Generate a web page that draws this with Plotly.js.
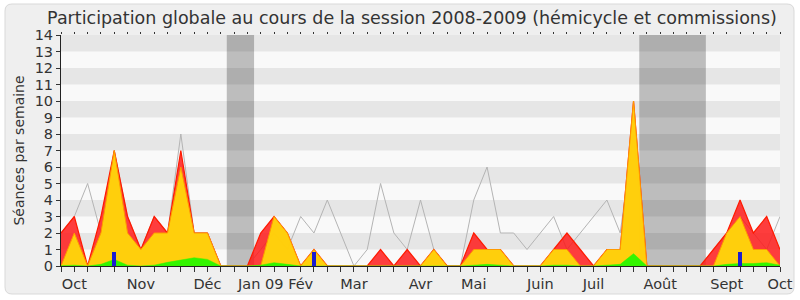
<!DOCTYPE html>
<html>
<head>
<meta charset="utf-8">
<script src="https://cdn.plot.ly/plotly-3.0.1.min.js"></script>
<style>html,body{margin:0;padding:0;background:#fff;}#chart{width:800px;height:300px;}</style>
</head>
<body>
<div id="chart"></div>
<script>
// Week index 0..54 (late Sept 2008 -> early Oct 2009)
const semaines = Array.from({length: 55}, (_, i) => i);
// Red area (présences)
const presences = [2,3,0,3,7,3,1,3,2,7,2,2,0,0,0,2,3,2,0,1,0,0,0,0,1,0,1,0,1,0,0,2,1,1,0,0,0,1,2,1,0,1,1,10,0,0,0,0,0,1,2,4,2,3,1];
// Yellow area (participations)
const participations = [0,2,0,2,7,2,1,2,2,6,2,2,0,0,0,0,3,2,0,1,0,0,0,0,0,0,0,0,1,0,0,1,1,1,0,0,0,1,1,0,0,1,1,10,0,0,0,0,0,0,2,3,1,1,0];
// Green area (interventions)
const interventions = [0.02,0.05,0,0.1,0.4,0.05,0,0.05,0.22,0.36,0.5,0.4,0,0,0,0.05,0.2,0.1,0,0,0,0,0,0,0,0,0,0,0,0,0,0.05,0.1,0.05,0,0,0,0.05,0.05,0,0,0.05,0.1,0.75,0,0,0,0,0,0,0.1,0.15,0.15,0.2,0.05];
// Blue bars (questions)
const questions = [0,0,0,0,0.85,0,0,0,0,0,0,0,0,0,0,0,0,0,0,0.85,0,0,0,0,0,0,0,0,0,0,0,0,0,0,0,0,0,0,0,0,0,0,0,0,0,0,0,0,0,0,0,0.85,0,0,0];
// Gray line (médiane)
const mediane = [2,3,5,2,7,3,1,3,2,8,2,2,0,0,0,1,2,1,3,2,4,2,0,1,5,2,1,4,1,0,0,4,6,2,2,1,2,3,1,2,3,4,2,8,0,0,0,0,0,1,2,3,2,1,3];
// Month labels
const moisPos = [1,6,11,15,18,22,27,31,36,40,45,50,54];
const moisLabels = ['Oct','Nov','Déc','Jan 09','Fév','Mar','Avr','Mai','Juin','Juil','Août','Sept','Oct'];
// Vacation periods (week index ranges)
const vacances = [[12.45,14.5],[43.43,48.43]];

const L = 61, R = 20, T = 35, B = 34, W = 800, H = 300;
const pw = W - L - R, ph = H - T - B;
const px = v => (v - L) / pw;
const py = v => (H - B - v) / ph;

function roundRect(x0, y0, x1, y1, r) {
  const f = (x, y) => px(x) + ',' + py(y);
  return 'M' + f(x0 + r, y0) + ' L' + f(x1 - r, y0) + ' Q' + f(x1, y0) + ' ' + f(x1, y0 + r) +
    ' L' + f(x1, y1 - r) + ' Q' + f(x1, y1) + ' ' + f(x1 - r, y1) +
    ' L' + f(x0 + r, y1) + ' Q' + f(x0, y1) + ' ' + f(x0, y1 - r) +
    ' L' + f(x0, y0 + r) + ' Q' + f(x0, y0) + ' ' + f(x0 + r, y0) + ' Z';
}

const shapes = [];
shapes.push({type: 'path', xref: 'paper', yref: 'paper', path: roundRect(5, 4, 794, 294, 7),
  fillcolor: '#efefef', line: {color: '#d9d9d9', width: 1}, layer: 'below'});
shapes.push({type: 'rect', xref: 'paper', yref: 'paper', x0: 0, x1: 1, y0: 0, y1: 1,
  fillcolor: '#f9f9f9', line: {width: 0}, layer: 'below'});
vacances.forEach(v => shapes.push({type: 'rect', xref: 'x', yref: 'paper', x0: v[0], x1: v[1], y0: 0, y1: 1,
  fillcolor: '#bdbdbd', line: {width: 0}, layer: 'below'}));
for (let k = 1; k < 14; k += 2) {
  shapes.push({type: 'rect', xref: 'paper', yref: 'y', x0: 0, x1: 1, y0: k, y1: k + 1,
    fillcolor: 'rgba(0,0,0,0.075)', line: {width: 0}, layer: 'below'});
}

const traces = [
  {x: semaines, y: mediane, type: 'scatter', mode: 'lines', line: {color: '#b4b4b4', width: 1}, hoverinfo: 'skip'},
  {x: semaines, y: presences, type: 'scatter', mode: 'lines', fill: 'tozeroy',
   fillcolor: 'rgba(255,20,20,0.82)', line: {color: '#ff1a00', width: 1.2}, hoverinfo: 'skip'},
  {x: semaines, y: participations, type: 'scatter', mode: 'lines', fill: 'tozeroy',
   fillcolor: 'rgba(255,212,10,0.97)', line: {color: '#ff9a00', width: 1}, hoverinfo: 'skip'},
  {x: semaines, y: interventions, type: 'scatter', mode: 'lines', fill: 'tozeroy',
   fillcolor: '#33f500', line: {color: '#33f500', width: 0.5}, hoverinfo: 'skip'},
  {x: semaines, y: questions, xaxis: 'x2', type: 'bar', width: 0.3, marker: {color: '#1c1cd0', line: {width: 0}}, hoverinfo: 'skip'}
];

const font = {family: 'DejaVu Sans, sans-serif', color: '#333'};
const layout = {
  width: W, height: H,
  margin: {l: L, r: R, t: T, b: B, pad: 0},
  paper_bgcolor: '#ffffff',
  plot_bgcolor: 'rgba(0,0,0,0)',
  showlegend: false,
  font: font,
  title: {text: 'Participation globale au cours de la session 2008-2009 (hémicycle et commissions)',
    font: {family: 'DejaVu Sans, sans-serif', size: 17.5, color: '#333'}, x: 0.515, xanchor: 'center', y: 0.94, yanchor: 'middle'},
  xaxis: {range: [0, 54], tickmode: 'array', tickvals: moisPos, ticktext: moisLabels,
    ticks: 'outside', ticklen: 5, tickcolor: '#333', tickwidth: 1,
    minor: {dtick: 1, tick0: 0, ticks: 'outside', ticklen: 5, tickcolor: '#333', showgrid: false},
    showline: true, linecolor: '#222', linewidth: 1, showgrid: false, zeroline: false,
    tickfont: {family: 'DejaVu Sans, sans-serif', size: 14.5, color: '#333'}, fixedrange: true},
  xaxis2: {overlaying: 'x', side: 'top', range: [0, 54], tickmode: 'linear', tick0: 0, dtick: 1,
    ticks: 'outside', ticklen: 2, tickcolor: '#333', showticklabels: false, showline: false, showgrid: false, zeroline: false},
  yaxis: {range: [0, 14], dtick: 1, tick0: 0, ticks: 'outside', ticklen: 4, tickcolor: '#333',
    showline: true, linecolor: '#222', linewidth: 1, showgrid: false, zeroline: false,
    tickfont: {family: 'DejaVu Sans, sans-serif', size: 14.5, color: '#333'},
    title: {text: 'Séances par semaine', font: {family: 'DejaVu Sans, sans-serif', size: 14, color: '#333'}, standoff: 6}},
  bargap: 0,
  shapes: shapes
};

Plotly.newPlot('chart', traces, layout, {staticPlot: true, displayModeBar: false});
</script>
</body>
</html>
